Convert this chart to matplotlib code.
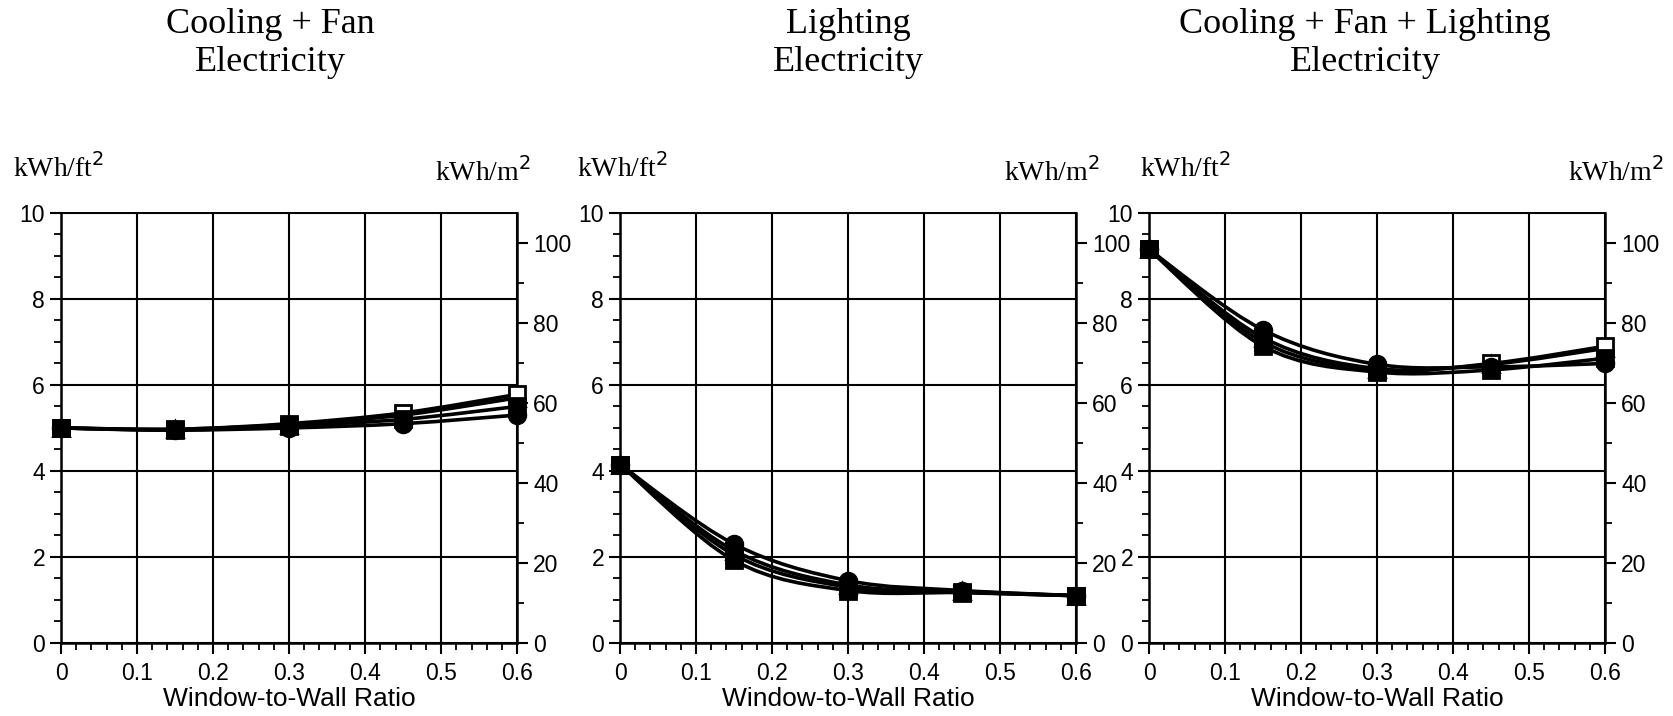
import matplotlib.pyplot as plt
from matplotlib.path import Path
from matplotlib.patches import PathPatch
from matplotlib.ticker import MultipleLocator

plt.rcParams['font.family'] = ['Liberation Sans', 'DejaVu Sans']

wwr = [0.0, 0.15, 0.3, 0.45, 0.6]
xtick_labels = ['0', '0.1', '0.2', '0.3', '0.4', '0.5', '0.6']

titles = ['Cooling + Fan\nElectricity',
          'Lighting\nElectricity',
          'Cooling + Fan + Lighting\nElectricity']

# kWh/ft2 per window-to-wall ratio, four cases per panel
cool_fill_sq = [5.0, 4.95, 5.05, 5.2, 5.5]
cool_open_sq = [5.0, 4.97, 5.1, 5.35, 5.78]
cool_circle = [5.0, 4.95, 5.0, 5.1, 5.3]
cool_triangle = [5.0, 4.97, 5.08, 5.3, 5.7]

light_fill_sq = [4.15, 1.92, 1.22, 1.17, 1.1]
light_open_sq = [4.15, 2.05, 1.3, 1.18, 1.1]
light_circle = [4.15, 2.3, 1.45, 1.22, 1.1]
light_triangle = [4.15, 2.15, 1.35, 1.2, 1.1]

total_fill_sq = [9.15, 6.9, 6.3, 6.35, 6.62]
total_open_sq = [9.15, 7.0, 6.35, 6.5, 6.9]
total_circle = [9.15, 7.28, 6.48, 6.42, 6.5]
total_triangle = [9.15, 7.1, 6.38, 6.48, 6.85]

# drawn back to front: open triangle, open square, circle, filled square
panels = [
    [cool_triangle, cool_open_sq, cool_circle, cool_fill_sq],
    [light_triangle, light_open_sq, light_circle, light_fill_sq],
    [total_triangle, total_open_sq, total_circle, total_fill_sq],
]
markers = [('^', 'white'), ('s', 'white'), ('o', 'black'), ('s', 'black')]

M2_PER_FT2 = 10.764


def smooth_path(ax, xs, ys, **kw):
    """Draws a smooth Catmull-Rom style Bezier curve through the points."""
    pts = list(zip(xs, ys))
    verts = [pts[0]]
    codes = [Path.MOVETO]
    n = len(pts)
    for i in range(n - 1):
        p0 = pts[i - 1] if i > 0 else pts[i]
        p1 = pts[i]
        p2 = pts[i + 1]
        p3 = pts[i + 2] if i + 2 < n else pts[i + 1]
        c1 = (p1[0] + (p2[0] - p0[0]) / 6, p1[1] + (p2[1] - p0[1]) / 6)
        c2 = (p2[0] - (p3[0] - p1[0]) / 6, p2[1] - (p3[1] - p1[1]) / 6)
        verts += [c1, c2, p2]
        codes += [Path.CURVE4] * 3
    ax.add_patch(PathPatch(Path(verts, codes), fill=False, **kw))


fig = plt.figure(figsize=(16.73, 7.16), dpi=100)
lefts = [0.0365, 0.3706, 0.6868]
ft_label_x = [-0.105, -0.094, -0.019]
m_label_x = [1.03, 1.053, 1.13]
title_x = [0.458, 0.5, 0.474]

for i, (title, series) in enumerate(zip(titles, panels)):
    ax = fig.add_axes([lefts[i], 0.102, 0.2726, 0.6006])
    ax.set_xlim(0, 0.6)
    ax.set_ylim(0, 10)
    ax.set_xticks([0, 0.1, 0.2, 0.3, 0.4, 0.5, 0.6])
    ax.set_xticklabels(xtick_labels)
    ax.xaxis.set_minor_locator(MultipleLocator(0.02))
    ax.yaxis.set_major_locator(MultipleLocator(2))
    ax.yaxis.set_minor_locator(MultipleLocator(0.5))
    ax.tick_params(labelsize=16.5)
    ax.tick_params(axis='x', pad=6)
    ax.tick_params(which='major', direction='out', length=8, width=1.5)
    ax.tick_params(which='minor', direction='out', length=5, width=1.3)
    ax.grid(True, which='major', color='black', linewidth=1.5)
    for sp in ax.spines.values():
        sp.set_linewidth(1.8)
    ax.spines['top'].set_linewidth(1.4)

    for ys in series:
        smooth_path(ax, wwr, ys, edgecolor='black', linewidth=2.6, zorder=3)
    for ys, (mk, fc) in zip(series, markers):
        ax.plot(wwr, ys, linestyle='none', marker=mk, markersize=12,
                markerfacecolor=fc, markeredgecolor='black',
                markeredgewidth=2.0, zorder=4, clip_on=False)

    ax.set_xlabel('Window-to-Wall Ratio', fontsize=19, labelpad=1)

    ax2 = ax.twinx()
    ax2.set_ylim(0, 10 * M2_PER_FT2)
    ax2.yaxis.set_major_locator(MultipleLocator(20))
    ax2.yaxis.set_minor_locator(MultipleLocator(10))
    ax2.tick_params(labelsize=16.5)
    ax2.tick_params(which='major', direction='out', length=8, width=1.5)
    ax2.tick_params(which='minor', direction='out', length=5, width=1.3)
    for sp in ax2.spines.values():
        sp.set_visible(False)

    ax.text(ft_label_x[i], 1.07, r'kWh/ft$^2$', transform=ax.transAxes,
            fontsize=20, family='Liberation Serif', ha='left', va='bottom')
    ax.text(m_label_x[i], 1.06, r'kWh/m$^2$', transform=ax.transAxes,
            fontsize=20, family='Liberation Serif', ha='right', va='bottom')
    ax.text(title_x[i], 1.395, title, transform=ax.transAxes, fontsize=26,
            family='Liberation Serif', ha='center', va='center',
            linespacing=1.2)

fig.savefig('out.png', dpi=100)
